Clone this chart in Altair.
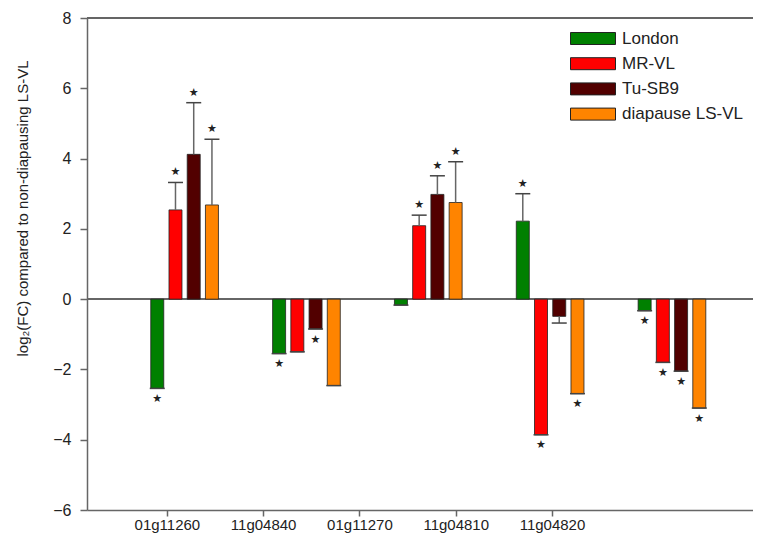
import altair as alt
import pandas as pd

genes = ["01g11260", "11g04840", "01g11270", "11g04810", "11g04820"]
series = ["London", "MR-VL", "Tu-SB9", "diapause LS-VL"]
colors = ["#008000", "#ff0000", "#520000", "#ff8400"]

london = [-2.54, -1.55, -0.17, 2.22, -0.33]
mr_vl = [2.54, -1.50, 2.09, -3.86, -1.80]
tu_sb9 = [4.12, -0.85, 2.98, -0.49, -2.05]
diapause = [2.68, -2.46, 2.75, -2.69, -3.10]

err_london = [0.0, 0.0, 0.0, 0.78, 0.0]
err_mr_vl = [0.78, 0.0, 0.30, 0.0, 0.0]
err_tu_sb9 = [1.47, 0.0, 0.53, 0.19, 0.0]
err_diapause = [1.87, 0.0, 1.16, 0.0, 0.0]

sig_london = [1, 1, 0, 1, 1]
sig_mr_vl = [1, 0, 1, 1, 1]
sig_tu_sb9 = [1, 1, 1, 0, 1]
sig_diapause = [1, 0, 1, 1, 1]

y_ticks = [-6, -4, -2, 0, 2, 4, 6, 8]

values = [london, mr_vl, tu_sb9, diapause]
errors = [err_london, err_mr_vl, err_tu_sb9, err_diapause]
sigs = [sig_london, sig_mr_vl, sig_tu_sb9, sig_diapause]

rows = []
for si, name in enumerate(series):
    for gi, gene in enumerate(genes):
        rows.append({"gene": gene, "series": name, "gi": gi, "si": si,
                     "value": values[si][gi], "err": errors[si][gi],
                     "sig": sigs[si][gi]})
df = pd.DataFrame(rows)

# layout constants (group units)
slot = 0.1496
tick0, tick_step = -0.1455, 0.7902
tick_pos = [round(tick0 + tick_step * i, 4) for i in range(len(genes))]
label_expr = "[" + ",".join("'%s'" % g for g in genes) + "][round((datum.value - (%f)) / %f)]" % (tick0, tick_step)

FONT = "Liberation Sans"
AX = "#666666"

base = alt.Chart(df).transform_calculate(
    xpos=f"datum.gi + (datum.si - 1.5) * {slot}",
    errend="datum.value >= 0 ? datum.value + datum.err : datum.value - datum.err",
    up="datum.value >= 0 ? 1 : 0",
)

xscale = alt.Scale(domain=[-0.76, 4.624], nice=False, zero=False)
yscale = alt.Scale(domain=[-6, 8], nice=False)

x_axis = alt.Axis(values=tick_pos, labelExpr=label_expr, title=None, grid=False,
                  tickSize=6, tickWidth=1.5, tickColor=AX, domainColor=AX,
                  domainWidth=1.5, labelFont=FONT, labelFontSize=15,
                  labelColor="#222222", labelPadding=1, labelFlush=False)
y_axis = alt.Axis(values=y_ticks, format="d", grid=False, tickSize=7,
                  tickWidth=1.5, tickColor=AX, domainColor=AX, domainWidth=1.5,
                  labelFont=FONT, labelFontSize=16, labelColor="#222222",
                  labelPadding=9, title="log\u2082(FC) compared to non-diapausing LS-VL",
                  titleFont=FONT, titleFontSize=15, titleFontWeight="normal",
                  titleColor="#222222", titlePadding=22, titleY=190,
                  titleAlign="center", titleAngle=270)

color = alt.Color("series:N", scale=alt.Scale(domain=series, range=colors),
                  legend=alt.Legend(title=None, orient="none", legendX=481, legendY=12,
                                    symbolType="M-1,-1H6.5V1H-1Z", symbolSize=144,
                                    symbolStrokeColor="#222222", symbolStrokeWidth=1,
                                    symbolOpacity=1, labelFont=FONT, labelFontSize=17,
                                    labelColor="#222222", labelOffset=37, rowPadding=7.2,
                                    padding=0))

bars = base.mark_bar(size=13, stroke="#222222", strokeWidth=0.8, opacity=1).encode(
    x=alt.X("xpos:Q", scale=xscale, axis=x_axis),
    y=alt.Y("value:Q", scale=yscale, axis=y_axis),
    y2=alt.datum(0),
    color=color,
)

err_rule = base.mark_rule(color=AX, strokeWidth=1.5).encode(
    x="xpos:Q", y="value:Q", y2="errend:Q")

caps = base.mark_tick(orient="horizontal", size=15, thickness=1.5, color="#444444", opacity=1).encode(
    x="xpos:Q", y="errend:Q")

stars_up = base.transform_filter("datum.sig == 1 && datum.up == 1").mark_text(
    text="\u2605", fontSize=11, dy=-10, color="#222222", baseline="middle",
    font="DejaVu Sans").encode(x="xpos:Q", y="errend:Q")
stars_down = base.transform_filter("datum.sig == 1 && datum.up == 0").mark_text(
    text="\u2605", fontSize=11, dy=10.5, color="#222222", baseline="middle",
    font="DejaVu Sans").encode(x="xpos:Q", y="errend:Q")

zero_line = alt.Chart(df).mark_rule(color=AX, strokeWidth=1.5).encode(y=alt.datum(0))
top_line = alt.Chart(df).mark_rule(color=AX, strokeWidth=1.5).encode(y=alt.datum(8))

chart = alt.layer(zero_line, top_line, bars, err_rule, caps, stars_up, stars_down).properties(
    width=666, height=492,
    autosize=alt.AutoSizeParams(type="none"),
    padding={"left": 79, "top": 10, "right": 0, "bottom": 26},
    background="white",
).configure_view(stroke=None)

chart.save("out.html", embed_options={"renderer": "svg", "actions": False})
